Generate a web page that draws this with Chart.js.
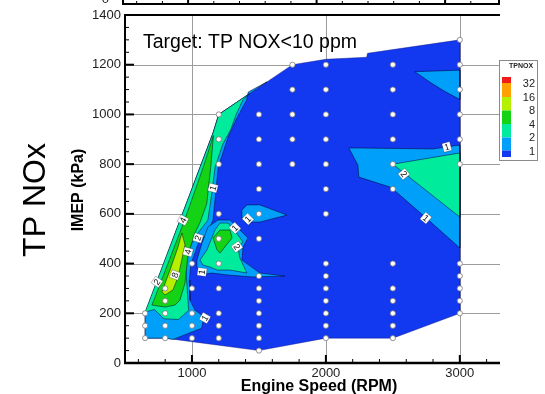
<!DOCTYPE html>
<html>
<head>
<meta charset="utf-8">
<script src="https://cdn.jsdelivr.net/npm/chart.js@4/dist/chart.umd.min.js"></script>
<style>
  html, body { margin: 0; padding: 0; background: #fff; }
  canvas { display: block; }
</style>
</head>
<body>
<canvas id="c" width="545" height="394"></canvas>
<script>
// ---- Operating points (engine speed rpm, IMEP kPa) ----
const testPoints = [
  [3000,1300],
  [1750,1200],[2000,1200],[2500,1200],[3000,1200],
  [1750,1100],[2000,1100],[2500,1100],[3000,1100],
  [1200,1000],[1500,1000],[1750,1000],[2000,1000],[2500,1000],[3000,1000],
  [1200,900],[1500,900],[1750,900],[2000,900],[2500,900],[3000,900],
  [1200,800],[1500,800],[1750,800],[2000,800],[2500,800],[3000,800],
  [1500,700],[2000,700],[2500,700],
  [1200,600],[1500,600],[2000,600],
  [1200,500],[1500,500],
  [1000,400],[1200,400],[2000,400],[2500,400],[3000,400],
  [1500,350],[2000,350],[3000,350],
  [800,300],[1000,300],[1200,300],[1500,300],[2000,300],[2500,300],[3000,300],
  [800,250],[1500,250],[2000,250],[2500,250],[3000,250],
  [650,200],[800,200],[1000,200],[1200,200],[1500,200],[2000,200],[2500,200],[3000,200],
  [650,150],[800,150],[1000,150],[1200,150],[1500,150],[2000,150],[2500,150],
  [650,100],[800,100],[1000,100],[1200,100],[1500,100],[2000,100],[2500,100],
  [1500,50]
];

// ---- TPNOx contour bands, boundaries in (rpm, kPa) ----
const mappedArea = [[650,100],[650,150],[650,200],[1157,925],[1200,1000],[1750,1200],[2000,1222],[2304,1230],[2311,1246],[3000,1300],[3000,200],[2500,100],[2000,100],[1500,50],[800,100]];

const band1Left = [[650,100],[650,200],[1157,925],[1200,1000],[1560,1131],[1420,1090],[1408,1058],[1330,980],[1270,910],[1196,787],[1157,575],[1112,520],[1045,480],[1022,442],[993,402],[980,334],[985,253],[1022,213],[1090,186],[1072,140],[860,95],[800,100]];
const band1Mid = [[1037,414],[1075,483],[1119,547],[1194,575],[1284,575],[1373,527],[1418,503],[1381,467],[1373,414],[1507,362],[1694,350],[1455,346],[1269,354],[1149,362],[1060,354],[1037,386]];
const band1Upper = [[1373,615],[1410,636],[1507,636],[1709,595],[1507,567],[1396,567],[1373,587]];
const band1Right = [[2172,865],[2254,865],[2798,861],[3000,877],[3000,463],[2724,595],[2500,700],[2478,708],[2246,748],[2239,796]];
const band1Top = [[2664,1172],[3000,1178],[3000,1060],[2880,1095],[2790,1125]];

const band2Left = [[650,205],[720,215],[790,178],[900,175],[975,212],[965,294],[950,400],[975,460],[1040,520],[1119,575],[1150,690],[1172,787],[1230,880],[1290,940],[1330,1000],[1380,1058],[1430,1084],[1200,1000],[1157,925]];
const band2Mid = [[1060,414],[1112,455],[1172,535],[1209,563],[1269,563],[1343,515],[1381,487],[1343,467],[1358,422],[1410,362],[1284,374],[1187,374],[1134,386],[1082,394]];
const band2Right = [[2500,800],[3000,845],[3000,587]];

const band4Left = [[1160,915],[1140,787],[1110,640],[1060,565],[1022,523],[970,434],[948,322],[910,253],[873,233],[799,225],[701,233],[728,270],[945,575],[1084,787]];
const band4Mid = [[1157,503],[1209,535],[1284,535],[1299,503],[1209,442],[1187,455]];

const band8Left = [[925,523],[948,475],[896,346],[858,294],[799,274],[776,286],[836,374],[896,467]];

// contour value tags (rpm, kPa, text)
const contourTags = [
  [1157,704,'1'],[933,575,'4'],[1045,503,'2'],[970,447,'4'],[873,354,'8'],
  [739,326,'2'],[1075,366,'1'],[1097,181,'1'],[1418,579,'1'],[1321,543,'1'],
  [1336,467,'2'],[2903,869,'1'],[2582,760,'2'],[2746,583,'1']
];

// axis ticks and legend
const speedTicks = [1000, 2000, 3000];
const imepTicks = [0, 200, 400, 600, 800, 1000, 1200, 1400];
const legendLevels = ['32', '16', '8', '4', '2', '1'];

// ---- styling ----
const C_BLUE = '#1238f0', C_LBLUE = '#00a0fa', C_TEAL = '#00eb9b', C_GREEN = '#14d214', C_YG = '#b5f000', C_ORANGE = '#ffa200', C_RED = '#f01c1c';
const FONT = '"Liberation Sans", Arial, Helvetica, sans-serif';
const tagAngles = [-75,-62,-72,-75,-70,-55,-82,-60,-45,-45,55,-15,50,40];

function poly(pts, color, order, line) {
  const data = pts.concat([pts[0]]).map(p => ({ x: p[0], y: p[1] }));
  return {
    type: 'line', data, polyFill: color, order,
    showLine: true, fill: false, tension: 0,
    borderColor: line || 'rgba(0,0,40,0.7)', borderWidth: 0.7,
    pointRadius: 0, pointHoverRadius: 0
  };
}

const datasets = [
  {
    type: 'scatter', order: 0,
    data: testPoints.map(p => ({ x: p[0], y: p[1] })),
    pointRadius: 2.6, pointBackgroundColor: '#fff', pointBorderColor: '#7a7a7a', pointBorderWidth: 0.8
  },
  poly(band8Left, C_YG, 1),
  poly(band4Mid, C_GREEN, 1),
  poly(band4Left, C_GREEN, 2),
  poly(band2Mid, C_TEAL, 2),
  poly(band2Left, C_TEAL, 3),
  poly(band2Right, C_TEAL, 3),
  poly(band1Mid, C_LBLUE, 3),
  poly(band1Left, C_LBLUE, 4),
  poly(band1Upper, C_LBLUE, 4),
  poly(band1Right, C_LBLUE, 4),
  poly(band1Top, C_LBLUE, 4),
  poly(mappedArea, C_BLUE, 5, 'rgba(10,20,120,0.6)')
];

const polyFillPlugin = {
  id: 'polyFill',
  beforeDatasetDraw(chart, args) {
    const ds = chart.data.datasets[args.index];
    if (!ds.polyFill) return;
    const ctx = chart.ctx, a = chart.chartArea, pts = args.meta.data;
    ctx.save();
    ctx.beginPath(); ctx.rect(a.left, a.top, a.right - a.left, a.bottom - a.top); ctx.clip();
    ctx.beginPath();
    pts.forEach((p, i) => i ? ctx.lineTo(p.x, p.y) : ctx.moveTo(p.x, p.y));
    ctx.closePath();
    ctx.fillStyle = ds.polyFill;
    ctx.fill();
    ctx.restore();
  }
};

const framePlugin = {
  id: 'frame',
  beforeDatasetsDraw(chart) {
    const ctx = chart.ctx, a = chart.chartArea, xs = chart.scales.x, ys = chart.scales.y;
    ctx.save();
    ctx.strokeStyle = '#9c9c9c'; ctx.lineWidth = 1;
    speedTicks.forEach(v => {
      const px = Math.round(xs.getPixelForValue(v)) + 0.5;
      ctx.beginPath(); ctx.moveTo(px, a.top); ctx.lineTo(px, a.bottom); ctx.stroke();
    });
    imepTicks.filter(v => v > 0 && v < 1400).forEach(v => {
      const py = Math.round(ys.getPixelForValue(v)) + 0.5;
      ctx.beginPath(); ctx.moveTo(a.left, py); ctx.lineTo(a.right, py); ctx.stroke();
    });
    ctx.restore();
  },
  afterDatasetsDraw(chart) {
    const ctx = chart.ctx, a = chart.chartArea, xs = chart.scales.x, ys = chart.scales.y;
    ctx.save();
    // contour tags
    contourTags.forEach((t, i) => {
      const px = xs.getPixelForValue(t[0]), py = ys.getPixelForValue(t[1]);
      ctx.save();
      ctx.translate(px, py); ctx.rotate(tagAngles[i] * Math.PI / 180);
      ctx.font = '9px ' + FONT;
      const w = ctx.measureText(t[2]).width + 3, h = 9;
      ctx.fillStyle = '#fff'; ctx.fillRect(-w / 2, -h / 2, w, h);
      ctx.strokeStyle = 'rgba(0,0,0,0.4)'; ctx.lineWidth = 0.6; ctx.strokeRect(-w / 2, -h / 2, w, h);
      ctx.fillStyle = '#111'; ctx.textAlign = 'center'; ctx.textBaseline = 'middle';
      ctx.fillText(t[2], 0, 0.5);
      ctx.restore();
    });

    // axis lines
    ctx.strokeStyle = '#000';
    ctx.lineWidth = 2;
    ctx.beginPath(); ctx.moveTo(a.left, a.top); ctx.lineTo(a.right, a.top); ctx.stroke();
    ctx.beginPath(); ctx.moveTo(a.left, a.top - 1); ctx.lineTo(a.left, a.bottom + 1); ctx.stroke();
    ctx.lineWidth = 2.5;
    ctx.beginPath(); ctx.moveTo(a.left - 1, a.bottom); ctx.lineTo(a.right, a.bottom); ctx.stroke();

    // tick marks (inward)
    for (let v = 600; v <= 3200; v += 200) {
      const px = xs.getPixelForValue(v), major = v % 1000 === 0;
      ctx.lineWidth = major ? 2 : 1;
      ctx.beginPath(); ctx.moveTo(px, a.bottom); ctx.lineTo(px, a.bottom - (major ? 8 : 4)); ctx.stroke();
    }
    for (let v = 50; v < 1400; v += 50) {
      const py = ys.getPixelForValue(v), major = v % 200 === 0;
      ctx.lineWidth = major ? 2 : 1;
      ctx.beginPath(); ctx.moveTo(a.left, py); ctx.lineTo(a.left + (major ? 9 : 4), py); ctx.stroke();
    }

    // annotation
    ctx.fillStyle = '#000';
    ctx.font = '19.5px ' + FONT;
    ctx.textAlign = 'left'; ctx.textBaseline = 'alphabetic';
    ctx.fillText('Target: TP NOX<10 ppm', 143, 48);

    // axis titles
    ctx.font = 'bold 16px ' + FONT;
    ctx.textAlign = 'center';
    ctx.fillText('Engine Speed (RPM)', 319, 391);
    ctx.save(); ctx.translate(83, 190); ctx.rotate(-Math.PI / 2);
    ctx.fillText('IMEP (kPa)', 0, 0); ctx.restore();
    ctx.font = '32px ' + FONT;
    ctx.save(); ctx.translate(45, 200); ctx.rotate(-Math.PI / 2);
    ctx.fillText('TP NOx', 0, 0); ctx.restore();

    // colour key
    const lx = 499.5, ly = 60.5;
    ctx.fillStyle = '#fff'; ctx.fillRect(lx, ly, 38, 100);
    ctx.strokeStyle = '#8a8a8a'; ctx.lineWidth = 1; ctx.strokeRect(lx, ly, 38, 100);
    ctx.fillStyle = '#222'; ctx.font = 'bold 7px ' + FONT; ctx.textAlign = 'center'; ctx.textBaseline = 'middle';
    ctx.fillText('TPNOX', 521, 66);
    const sw = [[C_RED, 77, 83], [C_ORANGE, 83, 97], [C_YG, 97, 110.5], [C_GREEN, 110.5, 124], [C_TEAL, 124, 137.5], [C_LBLUE, 137.5, 150.5], [C_BLUE, 150.5, 157]];
    sw.forEach(s => { ctx.fillStyle = s[0]; ctx.fillRect(502, s[1], 9, s[2] - s[1]); });
    ctx.fillStyle = '#222'; ctx.font = '11px ' + FONT; ctx.textAlign = 'right';
    const ky = [84, 97.5, 111, 124.5, 138, 151.5];
    legendLevels.forEach((t, i) => ctx.fillText(t, 535, ky[i]));

    // lower edge of the panel above
    ctx.strokeStyle = '#000'; ctx.lineWidth = 2;
    ctx.beginPath(); ctx.moveTo(122, 4); ctx.lineTo(500, 4); ctx.stroke();
    ctx.beginPath(); ctx.moveTo(123, 0); ctx.lineTo(123, 5); ctx.moveTo(499, 0); ctx.lineTo(499, 5); ctx.stroke();
    for (let k = 0; k < 14; k++) {
      const px = 136.7 + k * 25.7, major = (k % 5) === 2;
      ctx.lineWidth = major ? 2 : 1;
      ctx.beginPath(); ctx.moveTo(px, 4); ctx.lineTo(px, major ? -1 : 1); ctx.stroke();
    }
    ctx.fillStyle = '#222'; ctx.font = '13px ' + FONT; ctx.textAlign = 'right'; ctx.textBaseline = 'alphabetic';
    ctx.fillText('0', 109, 3);
    ctx.restore();
  }
};

new Chart(document.getElementById('c'), {
  type: 'scatter',
  data: { datasets },
  plugins: [polyFillPlugin, framePlugin],
  options: {
    responsive: false, animation: false, devicePixelRatio: 1,
    layout: { padding: { top: 15, right: 45, left: 0, bottom: 0 } },
    plugins: { legend: { display: false }, tooltip: { enabled: false } },
    scales: {
      x: {
        type: 'linear', min: 500, max: 3300,
        grid: { display: false, drawTicks: false }, border: { display: false },
        ticks: { font: { family: FONT, size: 13 }, color: '#222', padding: 3, maxRotation: 0, callback: v => String(v) },
        afterBuildTicks: s => { s.ticks = speedTicks.map(v => ({ value: v })); },
        afterFit: s => { s.height = 31; }
      },
      y: {
        type: 'linear', min: 0, max: 1400,
        grid: { display: false, drawTicks: false }, border: { display: false },
        ticks: { font: { family: FONT, size: 13 }, color: '#222', padding: 4, callback: v => String(v) },
        afterBuildTicks: s => { s.ticks = imepTicks.map(v => ({ value: v })); },
        afterFit: s => { s.width = 125; }
      }
    }
  }
});
</script>
</body>
</html>
